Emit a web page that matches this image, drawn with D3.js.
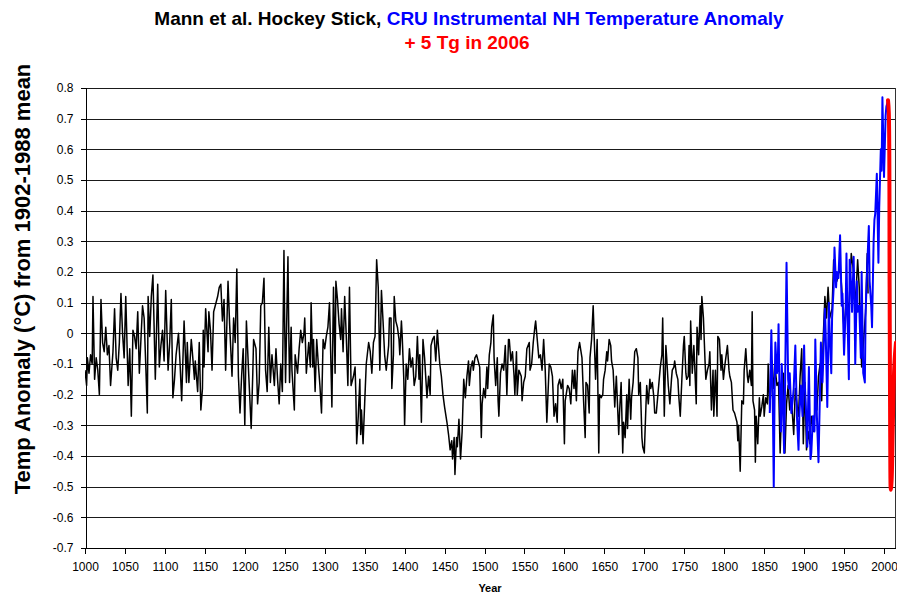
<!DOCTYPE html>
<html>
<head>
<meta charset="utf-8">
<script src="https://cdn.jsdelivr.net/npm/d3@7"></script>
<style>
  body { margin: 0; background: #fff; }
  svg { font-family: "Liberation Sans", Arial, sans-serif; }
</style>
</head>
<body>
<div id="chart"></div>
<script>
// Mann et al. reconstruction, [year, anomaly]
const mann = [
  [1000,-0.12],[1002,-0.17],[1003,-0.08],[1005,-0.13],[1007,-0.07],[1009,-0.10],[1010,0.12],[1012,-0.15],
  [1014,-0.08],[1016,-0.12],[1018,-0.20],[1020,0.11],[1022,-0.03],[1024,-0.06],[1026,0.02],[1028,-0.07],
  [1030,-0.04],[1032,-0.17],[1035,-0.06],[1037,0.08],[1039,-0.08],[1041,-0.12],[1043,-0.03],[1045,0.13],
  [1047,0.00],[1049,-0.08],[1051,0.12],[1054,-0.17],[1056,-0.05],[1058,-0.27],[1060,0.01],[1062,-0.01],
  [1064,-0.05],[1066,0.07],[1068,-0.13],[1070,-0.02],[1072,0.09],[1074,0.05],[1076,-0.10],[1078,-0.26],
  [1079,0.12],[1081,-0.01],[1083,0.12],[1085,0.19],[1088,-0.15],[1091,0.16],[1093,-0.11],[1095,-0.04],
  [1097,0.01],[1099,-0.09],[1101,0.14],[1104,-0.12],[1106,-0.03],[1108,0.11],[1110,-0.21],[1112,-0.15],
  [1114,-0.07],[1117,0.00],[1119,-0.10],[1121,-0.22],[1124,0.04],[1127,-0.16],[1128,-0.03],[1130,-0.16],
  [1133,-0.02],[1134,-0.05],[1137,-0.15],[1138,-0.09],[1141,-0.19],[1143,-0.03],[1145,-0.25],[1147,-0.18],
  [1148,0.01],[1149,-0.11],[1151,0.08],[1154,-0.06],[1155,0.07],[1157,0.01],[1159,-0.12],[1161,0.07],
  [1163,0.09],[1166,0.12],[1168,0.15],[1170,0.16],[1172,0.04],[1174,0.11],[1176,-0.12],[1179,0.17],
  [1181,0.03],[1184,-0.14],[1186,0.05],[1188,-0.03],[1190,0.21],[1192,-0.14],[1194,-0.26],[1196,-0.14],
  [1198,-0.05],[1200,-0.30],[1202,0.04],[1205,-0.14],[1208,-0.31],[1210,-0.13],[1211,-0.02],[1214,-0.05],
  [1216,-0.23],[1218,-0.16],[1220,0.09],[1222,0.10],[1224,0.18],[1226,-0.12],[1228,-0.19],[1230,0.02],
  [1232,-0.16],[1234,-0.07],[1237,-0.17],[1239,-0.05],[1241,-0.15],[1243,-0.23],[1245,-0.10],[1247,-0.19],
  [1249,0.27],[1250,0.01],[1251,-0.16],[1254,0.25],[1255,0.01],[1256,-0.16],[1258,0.02],[1259,-0.12],
  [1262,-0.25],[1263,-0.07],[1266,-0.13],[1268,-0.05],[1270,0.01],[1272,-0.03],[1274,0.00],[1275,0.05],
  [1277,-0.13],[1280,-0.03],[1282,-0.11],[1283,0.10],[1285,-0.11],[1286,-0.02],[1288,-0.19],[1290,-0.02],
  [1292,-0.10],[1294,-0.17],[1296,-0.26],[1298,-0.02],[1300,-0.05],[1302,-0.01],[1304,0.02],[1306,0.10],
  [1307,-0.01],[1309,-0.24],[1311,0.15],[1313,-0.13],[1314,0.17],[1316,0.11],[1318,0.03],[1320,-0.02],
  [1321,0.08],[1323,-0.06],[1325,0.12],[1327,-0.01],[1329,-0.17],[1331,0.15],[1333,-0.17],[1336,-0.14],
  [1338,-0.11],[1339,-0.20],[1340,-0.36],[1342,-0.27],[1344,-0.15],[1345,-0.33],[1346,-0.25],[1348,-0.36],
  [1350,-0.23],[1352,-0.10],[1355,-0.03],[1357,-0.06],[1359,-0.13],[1361,-0.03],[1363,-0.01],[1365,0.24],
  [1367,0.15],[1369,-0.12],[1371,0.14],[1373,0.04],[1375,-0.07],[1377,-0.12],[1380,-0.04],[1381,0.05],
  [1383,0.05],[1384,-0.18],[1386,-0.07],[1387,0.12],[1389,0.04],[1391,0.02],[1393,-0.02],[1394,-0.07],
  [1396,0.04],[1397,-0.01],[1399,-0.15],[1400,-0.30],[1402,-0.10],[1404,-0.15],[1406,-0.05],[1408,-0.11],
  [1410,-0.08],[1412,-0.17],[1414,-0.14],[1416,-0.01],[1418,-0.15],[1419,-0.07],[1421,-0.29],[1423,-0.02],
  [1425,-0.08],[1428,-0.21],[1430,-0.14],[1432,-0.20],[1433,-0.04],[1435,-0.02],[1437,-0.01],[1439,-0.09],
  [1441,0.01],[1442,-0.03],[1444,-0.10],[1446,-0.14],[1448,-0.20],[1450,-0.24],[1453,-0.29],[1455,-0.33],
  [1457,-0.38],[1459,-0.35],[1460,-0.41],[1462,-0.34],[1463,-0.46],[1465,-0.34],[1466,-0.37],[1468,-0.28],
  [1470,-0.41],[1472,-0.32],[1474,-0.15],[1476,-0.21],[1478,-0.14],[1480,-0.09],[1481,-0.17],[1483,-0.11],
  [1485,-0.09],[1486,-0.12],[1488,-0.08],[1490,-0.07],[1492,-0.09],[1494,-0.11],[1496,-0.34],[1497,-0.23],
  [1499,-0.18],[1501,-0.21],[1503,-0.11],[1504,-0.18],[1506,-0.07],[1508,-0.03],[1509,0.02],[1511,0.06],
  [1512,-0.08],[1514,-0.17],[1516,-0.08],[1517,-0.22],[1518,-0.27],[1520,-0.13],[1522,-0.10],[1524,-0.12],
  [1526,-0.04],[1528,-0.20],[1530,-0.02],[1531,-0.02],[1533,-0.09],[1535,-0.06],[1537,-0.14],[1538,-0.20],
  [1540,-0.06],[1541,-0.20],[1543,-0.12],[1546,-0.14],[1547,-0.22],[1549,-0.16],[1551,-0.14],[1553,-0.05],
  [1556,-0.03],[1557,-0.12],[1559,-0.10],[1561,-0.03],[1563,0.02],[1564,0.04],[1566,-0.02],[1568,-0.08],
  [1570,-0.07],[1572,-0.12],[1574,-0.02],[1576,-0.12],[1578,-0.29],[1581,-0.10],[1583,-0.11],[1585,-0.14],
  [1587,-0.27],[1589,-0.23],[1591,-0.29],[1592,-0.17],[1594,-0.15],[1596,-0.18],[1598,-0.15],[1600,-0.36],
  [1601,-0.22],[1604,-0.17],[1606,-0.18],[1608,-0.23],[1610,-0.12],[1612,-0.18],[1613,-0.12],[1615,-0.22],
  [1617,-0.06],[1619,-0.03],[1622,-0.08],[1624,-0.22],[1626,-0.34],[1627,-0.16],[1629,-0.17],[1631,-0.26],
  [1632,-0.08],[1634,-0.02],[1636,0.09],[1637,0.01],[1639,-0.15],[1641,-0.02],[1643,-0.39],[1644,-0.20],
  [1646,-0.21],[1648,-0.20],[1649,-0.15],[1651,-0.12],[1653,-0.06],[1654,-0.09],[1656,-0.02],[1658,-0.04],
  [1659,-0.09],[1661,-0.12],[1663,-0.24],[1665,-0.14],[1668,-0.33],[1669,-0.26],[1671,-0.16],[1673,-0.39],
  [1674,-0.29],[1676,-0.34],[1678,-0.20],[1679,-0.31],[1681,-0.15],[1683,-0.28],[1684,-0.21],[1686,-0.16],
  [1688,-0.06],[1690,-0.05],[1692,-0.08],[1693,-0.20],[1695,-0.16],[1697,-0.34],[1698,-0.37],[1700,-0.39],
  [1702,-0.24],[1703,-0.17],[1705,-0.23],[1707,-0.15],[1708,-0.18],[1710,-0.16],[1712,-0.21],[1713,-0.26],
  [1715,-0.26],[1717,-0.20],[1718,-0.17],[1720,-0.11],[1722,-0.07],[1723,0.05],[1725,-0.27],[1727,-0.04],
  [1728,-0.08],[1730,-0.17],[1732,-0.23],[1734,-0.15],[1735,-0.12],[1737,-0.11],[1738,-0.09],[1740,-0.13],
  [1742,-0.15],[1743,-0.20],[1745,-0.27],[1747,-0.15],[1749,-0.04],[1750,-0.01],[1752,-0.13],[1753,-0.15],
  [1755,-0.14],[1756,-0.04],[1757,-0.17],[1758,0.04],[1760,-0.13],[1762,-0.04],[1763,-0.10],[1765,-0.23],
  [1766,0.02],[1768,-0.07],[1770,0.09],[1771,-0.02],[1772,0.12],[1774,0.05],[1776,-0.09],[1777,-0.15],
  [1779,-0.12],[1781,-0.10],[1782,-0.06],[1784,-0.25],[1786,-0.12],[1787,-0.27],[1789,-0.12],[1791,-0.27],
  [1792,-0.01],[1794,-0.02],[1796,-0.12],[1797,-0.07],[1799,-0.15],[1801,-0.10],[1802,-0.08],[1804,-0.04],
  [1806,-0.12],[1807,-0.14],[1809,-0.16],[1811,-0.25],[1813,-0.26],[1816,-0.29],[1817,-0.35],[1818,-0.30],
  [1820,-0.45],[1822,-0.22],[1824,-0.23],[1825,-0.12],[1827,-0.05],[1829,-0.14],[1830,-0.16],[1832,-0.12],
  [1834,-0.17],[1835,0.07],[1836,-0.22],[1838,-0.25],[1839,-0.42],[1840,-0.27],[1842,-0.36],[1844,-0.21],
  [1845,-0.27],[1847,-0.24],[1849,-0.20],[1850,-0.27],[1852,-0.21],[1854,-0.23],[1855,-0.10],[1857,-0.25],
  [1859,-0.15],[1860,-0.09],[1862,-0.18],[1864,-0.12],[1866,-0.17],[1868,-0.16],[1870,-0.39],[1872,-0.23],
  [1874,-0.13],[1876,-0.39],[1878,-0.23],[1880,-0.17],[1882,-0.25],[1884,-0.21],[1887,-0.33],[1889,-0.18],
  [1891,-0.23],[1893,-0.27],[1895,-0.14],[1897,-0.05],[1899,-0.36],[1901,-0.16],[1903,-0.38],[1905,-0.32],
  [1907,-0.36],[1909,-0.27],[1912,-0.32],[1914,-0.23],[1916,-0.25],[1918,-0.14],[1920,-0.10],[1922,-0.22],
  [1924,-0.01],[1926,0.12],[1928,0.05],[1930,0.15],[1932,0.05],[1935,0.08],[1937,0.24],[1941,0.17],
  [1945,0.22],[1947,0.15],[1950,0.01],[1953,0.12],[1956,0.07],[1959,0.26],[1962,0.20],[1964,0.08],
  [1967,0.24],[1969,0.15],[1972,-0.11],[1974,-0.04],[1977,0.07],[1979,0.26],[1980,0.13]
];

// CRU instrumental NH record
const cru = [
  [1857,-0.26],[1859,0.01],[1861,-0.27],[1862,-0.50],[1863,-0.21],[1864,-0.03],[1866,-0.13],[1867,-0.11],
  [1868,0.03],[1869,-0.15],[1871,-0.32],[1872,-0.10],[1873,-0.18],[1875,-0.39],[1876,-0.21],[1878,0.23],
  [1880,-0.15],[1881,-0.18],[1882,-0.13],[1884,-0.26],[1886,-0.21],[1887,-0.18],[1889,-0.04],[1891,-0.27],
  [1893,-0.38],[1894,-0.27],[1896,-0.17],[1898,-0.27],[1900,-0.04],[1901,-0.17],[1903,-0.29],[1904,-0.37],
  [1906,-0.11],[1908,-0.41],[1909,-0.39],[1911,-0.27],[1913,-0.32],[1914,-0.02],[1916,-0.27],[1918,-0.42],
  [1920,-0.17],[1921,-0.03],[1923,-0.16],[1924,-0.08],[1926,0.08],[1927,0.00],[1929,-0.24],[1931,0.10],
  [1932,0.00],[1934,-0.13],[1935,0.05],[1937,0.15],[1938,0.28],[1940,0.15],[1941,0.20],[1943,0.18],
  [1945,0.32],[1947,0.09],[1948,0.13],[1950,-0.07],[1952,0.08],[1953,0.26],[1954,0.09],[1956,-0.15],
  [1957,0.24],[1959,0.15],[1960,0.07],[1962,0.25],[1963,0.11],[1964,-0.10],[1966,0.17],[1967,0.07],
  [1969,0.09],[1971,-0.08],[1972,0.20],[1974,-0.13],[1976,-0.16],[1977,0.07],[1979,0.22],[1981,0.35],
  [1982,0.17],[1984,0.09],[1985,0.02],[1987,0.30],[1988,0.37],[1989,0.39],[1991,0.52],[1993,0.23],
  [1994,0.41],[1996,0.60],[1997,0.53],[1998,0.77],[2000,0.51],[2002,0.71],[2003,0.74],[2005,0.76]
];

// + 5 Tg in 2006
const volcano = [
  [2005,0.76],[2006,0.72],[2007,0.15],[2007.7,-0.32],[2008.5,-0.51],[2009.5,-0.48],
  [2011,-0.30],[2013,-0.10],[2015,-0.03]
];

const yTicks = [0.8,0.7,0.6,0.5,0.4,0.3,0.2,0.1,0,-0.1,-0.2,-0.3,-0.4,-0.5,-0.6,-0.7];
const xTicks = d3.range(1000, 2001, 50);

const W = 897, H = 594;
const plot = { left: 85, right: 896, top: 88, bottom: 548 };

const svg = d3.select("#chart").append("svg")
  .attr("width", W)
  .attr("height", H);

const x = d3.scaleLinear().domain([1000, 2015]).range([plot.left, plot.right]);
const y = d3.scaleLinear().domain([-0.7, 0.8]).range([plot.bottom, plot.top]);

// gridlines
svg.append("g")
  .selectAll("line")
  .data(yTicks)
  .enter()
  .append("line")
  .attr("x1", plot.left)
  .attr("x2", plot.right)
  .attr("y1", (d) => Math.round(y(d)) + 0.5)
  .attr("y2", (d) => Math.round(y(d)) + 0.5)
  .attr("stroke", "#1a1a1a")
  .attr("stroke-width", 1);

svg.append("line")
  .attr("x1", plot.right - 0.5).attr("x2", plot.right - 0.5)
  .attr("y1", plot.top).attr("y2", plot.bottom)
  .attr("stroke", "#333");

// axes
const yAxis = svg.append("g")
  .attr("transform", `translate(${plot.left + 0.5},0)`)
  .call(d3.axisLeft(y).tickValues(yTicks).tickSize(5).tickPadding(7)
    .tickFormat((d) => (d === 0 ? "0" : d.toFixed(1))));

const xAxis = svg.append("g")
  .attr("transform", `translate(0,${Math.round(y(-0.7)) + 0.5})`)
  .call(d3.axisBottom(x).tickValues(xTicks).tickSize(5).tickPadding(9)
    .tickFormat(d3.format("d")));

[yAxis, xAxis].forEach((g) => {
  g.selectAll("path, line").attr("stroke", "#000").attr("shape-rendering", "crispEdges");
  g.selectAll("text").attr("fill", "#000").style("font-size", "12px")
    .style("font-family", "'Liberation Sans', Arial, sans-serif");
});
xAxis.select(".domain").attr("d", `M${plot.left},0H${plot.right}`);

// series
svg.append("clipPath").attr("id", "clip")
  .append("rect")
  .attr("x", plot.left).attr("y", plot.top)
  .attr("width", plot.right - plot.left).attr("height", plot.bottom - plot.top);

const line = d3.line().x((d) => x(d[0])).y((d) => y(d[1]));

const series = svg.append("g").attr("clip-path", "url(#clip)");

series.append("path")
  .datum(mann)
  .attr("fill", "none")
  .attr("stroke", "#000")
  .attr("stroke-width", 1.5)
  .attr("stroke-linejoin", "round")
  .attr("d", line);

series.append("path")
  .datum(cru)
  .attr("fill", "none")
  .attr("stroke", "#0000ff")
  .attr("stroke-width", 2)
  .attr("stroke-linejoin", "round")
  .attr("d", line);

series.append("path")
  .datum(volcano)
  .attr("fill", "none")
  .attr("stroke", "#ff0000")
  .attr("stroke-width", 4)
  .attr("stroke-linecap", "round")
  .attr("d", line.curve(d3.curveCatmullRom));

// titles
const title = svg.append("text")
  .attr("x", 469)
  .attr("y", 25)
  .attr("text-anchor", "middle")
  .style("font-size", "19px")
  .style("font-weight", "bold");
title.append("tspan").attr("fill", "#000").text("Mann et al. Hockey Stick, ");
title.append("tspan").attr("fill", "#0000ff").text("CRU Instrumental NH Temperature Anomaly");

svg.append("text")
  .attr("x", 467)
  .attr("y", 49)
  .attr("text-anchor", "middle")
  .attr("fill", "#ff0000")
  .style("font-size", "19px")
  .style("font-weight", "bold")
  .text("+ 5 Tg in 2006");

svg.append("text")
  .attr("transform", "translate(30,279) rotate(-90)")
  .attr("text-anchor", "middle")
  .attr("fill", "#000")
  .style("font-size", "22px")
  .style("font-weight", "bold")
  .text("Temp Anomaly (°C) from 1902-1988 mean");

svg.append("text")
  .attr("x", 490)
  .attr("y", 592)
  .attr("text-anchor", "middle")
  .attr("fill", "#000")
  .style("font-size", "11px")
  .style("font-weight", "bold")
  .text("Year");
</script>
</body>
</html>
